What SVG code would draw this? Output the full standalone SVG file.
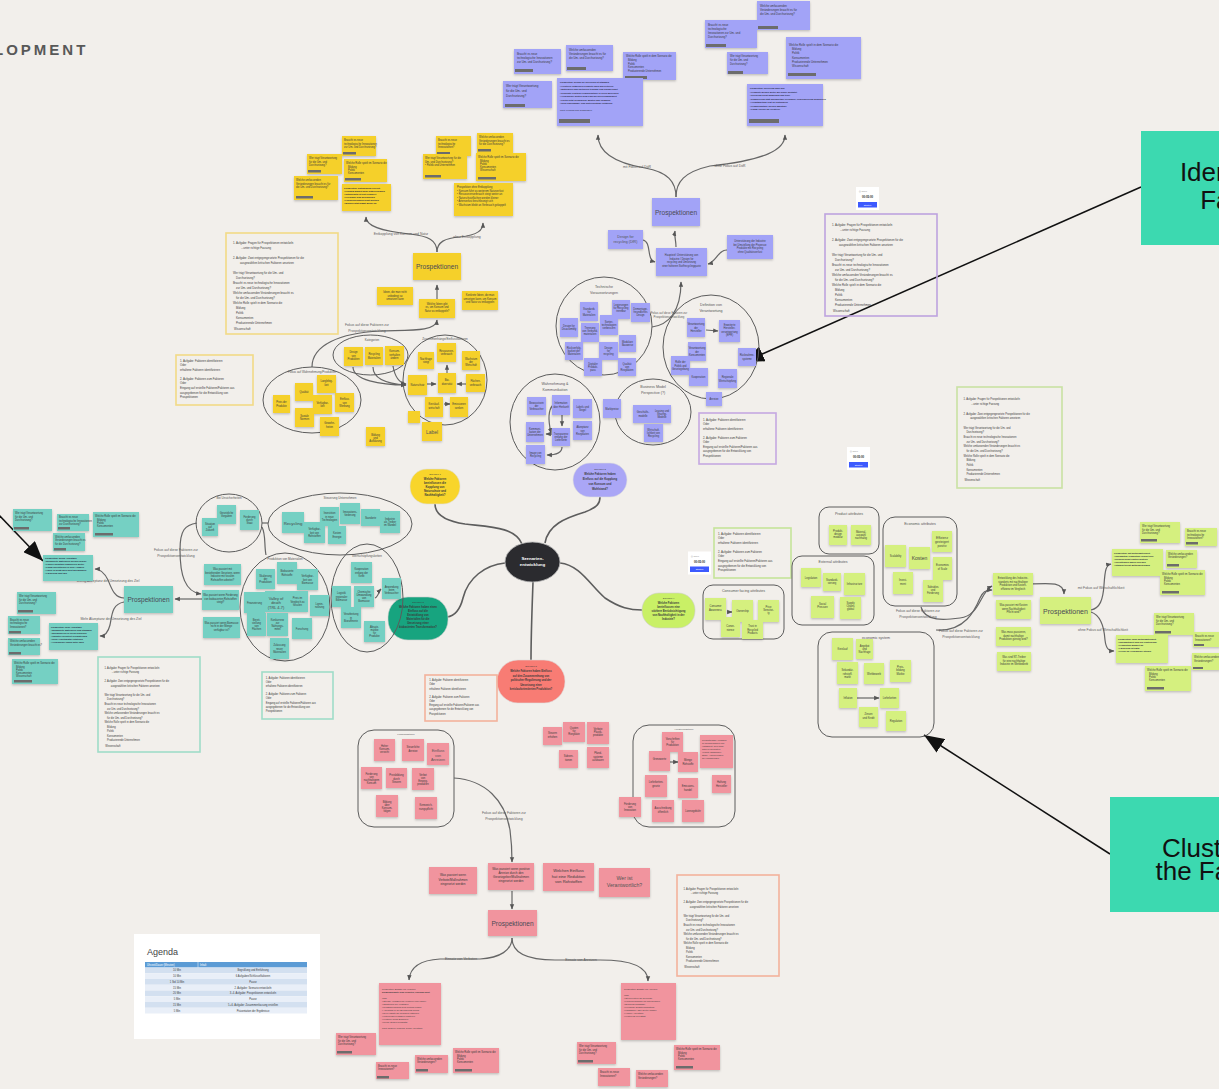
<svg xmlns="http://www.w3.org/2000/svg" width="1219" height="1089" viewBox="0 0 1219 1089">
<style>
text{font-family:"Liberation Sans",Arial,sans-serif;fill:#3a3a3a}
.s{font-size:2.6px}
.q{font-size:2.8px}
.d{font-size:2.2px;font-weight:bold;fill:#26263a}
.c{text-anchor:middle}
.tt{font-size:3.6px;fill:#555;text-anchor:middle}
.lb{font-size:3.4px;fill:#5a5a5a;text-anchor:middle}
.pr{font-size:6.6px;fill:#4a4a55;text-anchor:middle}
.ny{fill:#f5d02b}
.np{fill:#a2a3f7}
.nt{fill:#74d0c3}
.nl{fill:#d5f07f}
.nr{fill:#f1949e}
.tag{fill:#6c6c6c}
.cl{fill:none;stroke:#5c5c5c;stroke-width:1}
.cn{fill:none;stroke:#666;stroke-width:1.2;marker-end:url(#ah)}
.cn0{fill:none;stroke:#666;stroke-width:1.2}
.mm{fill:none;stroke:#5d5d5d;stroke-width:1.6}
.notes{filter:url(#sh)}
.tb{fill:none;stroke-width:1.6}
.big{fill:none;stroke:#111;stroke-width:1.5;marker-end:url(#bh)}
</style>
<defs>
<filter id="sh" x="-10%" y="-10%" width="120%" height="140%">
<feDropShadow dx="0" dy="1.2" stdDeviation="0.8" flood-color="#000" flood-opacity="0.22"/>
</filter>
<marker id="ah" viewBox="0 0 10 10" refX="9" refY="5" markerWidth="4.5" markerHeight="4.5" orient="auto">
<path d="M0,1 L10,5 L0,9 z" fill="#555"/>
</marker>
<marker id="bh" viewBox="0 0 20 16" refX="20" refY="8" markerWidth="20" markerHeight="16" markerUnits="userSpaceOnUse" orient="auto">
<path d="M0,0 L20,8 L0,16 z" fill="#111"/>
</marker>
<!-- task sheet: questions for the prospections -->
<symbol id="task" viewBox="0 0 112 101">
<text class="q" x="7" y="11">1. Aufgabe: Fragen für Prospektionen entwickeln</text>
<text class="q" x="15" y="16">...unter richtige Fassung</text>
<text class="q" x="7" y="26">2. Aufgabe: Zwei entgegengesetzte Prospektionen für die</text>
<text class="q" x="14" y="31">ausgewählten kritischen Faktoren ansetzen</text>
<text class="q" x="7" y="41">Wer trägt Verantwortung für die Um- und</text>
<text class="q" x="10" y="46">Durchsetzung?</text>
<text class="q" x="7" y="51">Braucht es neue technologische Innovationen</text>
<text class="q" x="10" y="56">zur Um- und Durchsetzung?</text>
<text class="q" x="7" y="61">Welche umfassenden Veränderungen braucht es</text>
<text class="q" x="10" y="66">für die Um- und Durchsetzung?</text>
<text class="q" x="7" y="71">Welche Rolle spielt in dem Szenario die</text>
<text class="q" x="10" y="76">Bildung</text>
<text class="q" x="10" y="81">Politik</text>
<text class="q" x="10" y="86">Konsumenten</text>
<text class="q" x="10" y="91">Produzierende Unternehmen</text>
<text class="q" x="8" y="97">Wissenschaft</text>
</symbol>
<!-- task sheet: identifying factors -->
<symbol id="task2" viewBox="0 0 77 50">
<text class="q" x="4" y="7">1. Aufgabe: Faktoren identifizieren</text>
<text class="q" x="4" y="11">Oder</text>
<text class="q" x="4" y="16">erhaltene Faktoren identifizieren</text>
<text class="q" x="4" y="25">2. Aufgabe: Faktoren zum Faktoren</text>
<text class="q" x="4" y="29">Oder</text>
<text class="q" x="4" y="34">Eingang auf erstellte Faktoren/Faktoren aus</text>
<text class="q" x="4" y="38.5">ausgegebenen für die Entwicklung von</text>
<text class="q" x="4" y="43">Prospektionen</text>
</symbol>
<!-- timer widget -->
<symbol id="timer" viewBox="0 0 23 23">
<rect width="23" height="23" fill="#fff"/>
<text x="3" y="5" style="font-size:2.2px;fill:#888">◷ Timer</text>
<text x="11.5" y="11" style="font-size:2.8px;font-weight:bold;fill:#222;text-anchor:middle">00:05:00</text>
<rect x="2" y="15" width="19" height="5.5" fill="#3d5afe"/>
<text x="11.5" y="18.8" style="font-size:2.3px;fill:#fff;text-anchor:middle">Starten</text>
</symbol>
</defs>

<rect width="1219" height="1089" fill="#f2efeb"/>
<text x="-6" y="55" style="font-size:15px;font-weight:bold;letter-spacing:3px;fill:#585858">LOPMENT</text>

<!-- ============ connectors ============ -->
<g id="connectors">
<!-- mind map branches from the centre -->
<path class="mm" d="M522,544 C515,527 490,527 465,524 C445,521 435,515 435,504"/>
<path class="mm" d="M545,543 C548,525 565,518 585,512 C598,507 600,503 600,497"/>
<path class="mm" d="M505,563 C485,565 468,578 463,598 C460,610 455,616 447,617"/>
<path class="mm" d="M533,582 C532,610 531,635 531,660"/>
<path class="mm" d="M560,563 C580,565 590,585 605,598 C620,608 630,610 642,610"/>

<!-- purple branch -->
<path class="cn" d="M676,197 C676,182 668,172 645,168 C615,163 598,152 598,135"/>
<path class="cn" d="M676,197 C676,182 684,172 710,166 C765,160 785,150 785,135"/>
<path class="cn" d="M676,247 C676,240 674,236 675,231"/>
<path class="cn" d="M643,240 C652,242 646,260 655,262"/>
<path class="cn" d="M727,250 C718,250 716,262 708,264"/>
<path class="cn" d="M652,327 C668,325 681,312 681,282"/>
<path class="cn" d="M706,330 L718,331"/>
<path class="cn" d="M553,405 C548,410 548,420 551,433"/>
<path class="cn" d="M562,415 L562,426"/>
<path class="cn" d="M552,434 L546,434"/>
<path class="cn" d="M562,447 C562,453 555,455 547,455"/>

<!-- yellow branch -->
<path class="cn" d="M437,252 C437,240 428,236 410,234 C380,231 366,226 366,217"/>
<path class="cn" d="M437,252 C437,242 445,238 460,237 C478,235 483,230 483,223"/>
<path class="cn" d="M437,299 L437,285"/>
<path class="cn" d="M312,367 C312,345 340,333 380,331 C410,330 436,332 437,320"/>
<path class="cn" d="M353,367 C353,380 380,385 406,385"/>
<path class="cn" d="M373,367 C373,380 390,384 406,385"/>
<path class="cn" d="M393,366 C395,378 400,383 406,384"/>
<path class="cn" d="M427,384 L436,384"/>
<path class="cn" d="M447,373 L447,365"/>
<path class="cn" d="M466,384 L457,384"/>
<path class="cn" d="M444,404 L450,404"/>

<!-- teal branch -->
<path class="cn" d="M124,598 C115,598 112,590 108,580 C104,572 100,569 95,569"/>
<path class="cn" d="M124,602 C112,604 112,615 110,625 C108,633 104,636 100,636"/>
<path class="cn" d="M202,599 L175,599"/>
<path class="cn" d="M197,523 C185,525 180,530 180,550 C180,575 185,592 201,594"/>
<path class="cn0" d="M262,523 L268,523"/>
<path class="cn0" d="M262,527 C266,535 264,545 266,555"/>
<path class="cn" d="M375,598 C378,597 379,591 381,589"/>

<!-- lime branch -->
<path class="cn" d="M1032,584 C1050,583 1064,582 1064,594"/>
<path class="cn" d="M1091,610 C1100,608 1103,600 1104,585 C1105,570 1106,565 1111,564"/>
<path class="cn" d="M1091,612 C1100,615 1104,625 1105,640 C1106,648 1108,651 1114,651"/>
<path class="cn" d="M921,607 C925,622 945,620 960,618 C980,616 980,592 992,586"/>
<path class="cn" d="M936,630 C965,632 975,610 980,598 C983,592 985,590 992,590"/>
<path class="cn" d="M727,612 L732,612"/>
<path class="cn" d="M857,698 L879,698"/>

<!-- pink branch -->
<path class="cn" d="M454,778 C485,780 505,800 510,830 C512,845 512,852 512,862"/>
<path class="cn" d="M512,891 L512,909"/>
<path class="cn" d="M512,938 C512,950 500,958 480,959 L440,959 C420,960 410,968 409,980"/>
<path class="cn" d="M512,938 C512,952 525,960 555,960 L600,960 C635,960 648,968 648,981"/>
<path class="cn" d="M670,762 L678,762"/>

<!-- callout arrows -->
<path class="big" d="M1141,187 L744,362"/>
<path class="big" d="M1110,854 L924,735"/>
<path class="big" d="M-4,512 L43,561"/>
</g>

<!-- connector labels -->
<g id="connector-labels">
<text class="lb" x="637" y="168">mit Fokus auf DöR</text>
<text class="lb" x="730" y="167">ohne Fokus auf DöR</text>
<text class="lb" x="669" y="314" style="font-size:2.8px">Fokus auf diese Faktoren zur</text>
<text class="lb" x="669" y="318" style="font-size:2.8px">Prospektionsentwicklung</text>
<text class="lb" x="401" y="235">Entkopplung von Konsum und Natur</text>
<text class="lb" x="467" y="238">ohne Entkopplung</text>
<text class="lb" x="367" y="326">Fokus auf diese Faktoren zur</text>
<text class="lb" x="367" y="332">Prospektionsentwicklung</text>
<text class="lb" x="108" y="582">Wenig Akzeptanz der Umsetzung des Ziel</text>
<text class="lb" x="111" y="620">Mehr Akzeptanz der Umsetzung des Ziel</text>
<text class="lb" x="176" y="551">Fokus auf diese Faktoren zur</text>
<text class="lb" x="176" y="557">Prospektionsentwicklung</text>
<text class="lb" x="1101" y="589">mit Fokus auf Wirtschaftlichkeit</text>
<text class="lb" x="1103" y="631">ohne Fokus auf Wirtschaftlichkeit</text>
<text class="lb" x="918" y="612">Fokus auf diese Faktoren zur</text>
<text class="lb" x="918" y="618">Prospektionsentwicklung</text>
<text class="lb" x="961" y="632">Fokus auf diese Faktoren zur</text>
<text class="lb" x="961" y="638">Prospektionsentwicklung</text>
<text class="lb" x="504" y="814">Fokus auf diese Faktoren zur</text>
<text class="lb" x="504" y="820">Prospektionsentwicklung</text>
<text class="lb" x="461" y="960">Einsatz von Verboten</text>
<text class="lb" x="581" y="961">Einsatz von Anreizen</text>
</g>

<!-- ============ centre ============ -->
<g id="center">
<ellipse cx="532.5" cy="562" rx="27.5" ry="20" fill="#2b2b2f" stroke="#bbb" stroke-width="0.8"/>
<text x="532.5" y="560" style="font-size:4.4px;font-weight:bold;fill:#fff;text-anchor:middle">Szenarien-</text>
<text x="532.5" y="566" style="font-size:4.4px;font-weight:bold;fill:#fff;text-anchor:middle">entwicklung</text>
</g>

<g id="q-yellow">
<rect x="410" y="469" width="50" height="35" rx="17" fill="#f8d52b" stroke="#ddd" stroke-width="0.6"/>
<text class="c" x="435" y="475" style="font-size:2.4px">Szenario 1</text>
<text class="c" x="435" y="479.5" style="font-size:2.8px;font-weight:bold">Welche Faktoren</text>
<text class="c" x="435" y="483.5" style="font-size:2.8px;font-weight:bold">beeinflussen die</text>
<text class="c" x="435" y="487.5" style="font-size:2.8px;font-weight:bold">Kopplung von</text>
<text class="c" x="435" y="491.5" style="font-size:2.8px;font-weight:bold">Naturschutz und</text>
<text class="c" x="435" y="495.5" style="font-size:2.8px;font-weight:bold">Nachhaltigkeit?</text>
</g>

<g id="q-purple">
<rect x="573" y="463" width="54" height="34" rx="17" fill="#aaa6f6" stroke="#ddd" stroke-width="0.6"/>
<text class="c" x="600" y="470" style="font-size:2.4px">Szenario 2</text>
<text class="c" x="600" y="475" style="font-size:2.8px;font-weight:bold">Welche Faktoren haben</text>
<text class="c" x="600" y="480" style="font-size:2.8px;font-weight:bold">Einfluss auf die Kopplung</text>
<text class="c" x="600" y="485" style="font-size:2.8px;font-weight:bold">von Konsum und</text>
<text class="c" x="600" y="490" style="font-size:2.8px;font-weight:bold">Wohlstand?</text>
</g>

<g id="q-teal">
<rect x="388" y="597" width="60" height="43" rx="20" fill="#17a47f" stroke="#ccc" stroke-width="0.6"/>
<text class="c" x="418" y="603" style="font-size:2.4px">Szenario 3</text>
<text class="c" x="418" y="607.5" style="font-size:2.7px;font-weight:bold">Welche Faktoren haben einen</text>
<text class="c" x="418" y="611.5" style="font-size:2.7px;font-weight:bold">Einfluss auf die</text>
<text class="c" x="418" y="615.5" style="font-size:2.7px;font-weight:bold">Entwicklung von</text>
<text class="c" x="418" y="619.5" style="font-size:2.7px;font-weight:bold">Materialien für die</text>
<text class="c" x="418" y="623.5" style="font-size:2.7px;font-weight:bold">Umsetzung einer</text>
<text class="c" x="418" y="627.5" style="font-size:2.7px;font-weight:bold">biobasierten Transformation?</text>
</g>

<g id="q-lime">
<rect x="642" y="593" width="53" height="35" rx="17" fill="#c9f066" stroke="#ccc" stroke-width="0.6"/>
<text class="c" x="668.5" y="599" style="font-size:2.4px">Szenario 4</text>
<text class="c" x="668.5" y="603.5" style="font-size:2.7px;font-weight:bold">Welche Faktoren</text>
<text class="c" x="668.5" y="607.5" style="font-size:2.7px;font-weight:bold">beeinflussen eine</text>
<text class="c" x="668.5" y="611.5" style="font-size:2.7px;font-weight:bold">stärkere Berücksichtigung</text>
<text class="c" x="668.5" y="615.5" style="font-size:2.7px;font-weight:bold">von Nachhaltigkeit in der</text>
<text class="c" x="668.5" y="619.5" style="font-size:2.7px;font-weight:bold">Industrie?</text>
</g>

<g id="q-red">
<rect x="497" y="660" width="68" height="43" rx="21" fill="#f87c74" stroke="#ddd" stroke-width="0.6"/>
<text class="c" x="531" y="667" style="font-size:2.4px">Szenario 5</text>
<text class="c" x="531" y="672" style="font-size:2.7px;font-weight:bold">Welche Faktoren haben Einfluss</text>
<text class="c" x="531" y="676.5" style="font-size:2.7px;font-weight:bold">auf den Zusammenhang von</text>
<text class="c" x="531" y="681" style="font-size:2.7px;font-weight:bold">politischer Regulierung und der</text>
<text class="c" x="531" y="685.5" style="font-size:2.7px;font-weight:bold">Umsetzung einer</text>
<text class="c" x="531" y="690" style="font-size:2.7px;font-weight:bold">kreislauforientierten Produktion?</text>
</g>

<!-- ============ purple area ============ -->
<g id="purple-area">
<g class="notes">
<rect class="np" x="514" y="49" width="47" height="25"/><rect class="tag" x="515" y="69" width="18" height="3"/>
<rect class="np" x="566" y="45" width="47" height="26"/><rect class="tag" x="567" y="67" width="19" height="3"/>
<rect class="np" x="623" y="52" width="53" height="28"/><rect class="tag" x="625" y="76" width="22" height="3"/>
<rect class="np" x="503" y="81" width="49" height="27"/><rect class="tag" x="505" y="104" width="20" height="3"/>
<rect class="np" x="557" y="78" width="86" height="48"/><rect class="tag" x="559" y="119" width="31" height="4"/>
<rect class="np" x="757" y="1" width="53" height="29"/><rect class="tag" x="758" y="26" width="20" height="3"/>
<rect class="np" x="705" y="20" width="52" height="28"/><rect class="tag" x="706" y="44" width="20" height="3"/>
<rect class="np" x="727" y="52" width="41" height="22"/><rect class="tag" x="728" y="71" width="15" height="3"/>
<rect class="np" x="786" y="37" width="75" height="42"/><rect class="tag" x="788" y="73" width="28" height="3"/>
<rect class="np" x="747" y="84" width="76" height="42"/><rect class="tag" x="749" y="119" width="30" height="4"/>
</g>
<text class="q" x="517" y="55">Braucht es neue</text>
<text class="q" x="517" y="59">technologische Innovationen</text>
<text class="q" x="517" y="63">zur Um- und Durchsetzung?</text>
<text class="q" x="569" y="51">Welche umfassenden</text>
<text class="q" x="569" y="55">Veränderungen braucht es für</text>
<text class="q" x="569" y="59">die Um- und Durchsetzung?</text>
<text class="s" x="626" y="57">Welche Rolle spielt in dem Szenario die</text>
<text class="s" x="628" y="61">Bildung</text>
<text class="s" x="628" y="64.5">Politik</text>
<text class="s" x="628" y="68">Konsumenten</text>
<text class="s" x="628" y="71.5">Produzierende Unternehmen</text>
<text class="q" x="506" y="87" style="font-size:3px">Wer trägt Verantwortung</text>
<text class="q" x="506" y="92" style="font-size:3px">für die Um- und</text>
<text class="q" x="506" y="97" style="font-size:3px">Durchsetzung?</text>
<text class="d" x="560" y="83">Prospektion: Design for Recycling ist Standard</text>
<text class="d" x="560" y="86.5">• Hersteller entwickeln Produkte nach DfR-Kriterien</text>
<text class="d" x="560" y="90">• Materialien sind sortenrein trennbar und kennzeichnet</text>
<text class="d" x="560" y="93.5">• Rezyklate ersetzen Primärrohstoffe in vielen Bereichen</text>
<text class="d" x="560" y="97">• Verbraucher achten beim Kauf auf Recyclingfähigkeit</text>
<text class="d" x="560" y="100.5">• Politik setzt verbindliche Quoten und Vorgaben</text>
<text class="d" x="560" y="104">• Neue Rücknahme- und Sortiersysteme entstehen</text>
<text class="d" x="560" y="111" style="font-weight:normal">Fazit: Kreislauf wird geschlossen</text>

<text class="q" x="760" y="7">Welche umfassenden</text>
<text class="q" x="760" y="11">Veränderungen braucht es für</text>
<text class="q" x="760" y="15">die Um- und Durchsetzung?</text>
<text class="q" x="708" y="26">Braucht es neue</text>
<text class="q" x="708" y="30">technologische</text>
<text class="q" x="708" y="34">Innovationen zur Um- und</text>
<text class="q" x="708" y="38">Durchsetzung?</text>
<text class="s" x="730" y="57">Wer trägt Verantwortung</text>
<text class="s" x="730" y="61">für die Um- und</text>
<text class="s" x="730" y="65">Durchsetzung?</text>
<text class="q" x="789" y="46">Welche Rolle spielt in dem Szenario die</text>
<text class="q" x="792" y="50">Bildung</text>
<text class="q" x="792" y="54">Politik</text>
<text class="q" x="792" y="59">Konsumenten</text>
<text class="q" x="792" y="63">Produzierende Unternehmen</text>
<text class="q" x="792" y="67">Wissenschaft</text>
<text class="d" x="750" y="89">Prospektion: Recycling ohne DfR</text>
<text class="d" x="750" y="92.5">• Produkte werden weiter wie bisher gestaltet</text>
<text class="d" x="750" y="96">• Recycling bleibt aufwendig und teuer</text>
<text class="d" x="750" y="99.5">• Downcycling statt hochwertiger Kreisläufe, verbrennen und deponieren</text>
<text class="d" x="750" y="103">• Verantwortung liegt bei Entsorgern</text>
<text class="d" x="750" y="106.5">• Primärrohstoffe bleiben günstiger</text>
<text class="d" x="750" y="110">• Kaum Anreize für Hersteller</text>

<g class="notes">
<rect class="np" x="652" y="198" width="48" height="28"/>
<rect class="np" x="608" y="230" width="35" height="19"/>
<rect class="np" x="656" y="248" width="51" height="28"/>
<rect class="np" x="727" y="235" width="46" height="24"/>
</g>
<text class="pr" x="676" y="214.5">Prospektionen</text>
<text class="c" x="625.5" y="238" style="font-size:3.6px;fill:#555">Design for</text>
<text class="c" x="625.5" y="243" style="font-size:3.6px;fill:#555">recycling (DfR)</text>
<text class="c s" x="681.5" y="256">Hauptziel: Unterstützung von</text>
<text class="c s" x="681.5" y="259.5">Industrie / Design for</text>
<text class="c s" x="681.5" y="263">recycling und Umsetzung</text>
<text class="c s" x="681.5" y="266.5">einer höheren Stoffrecyclingquote</text>
<text class="c s" x="750" y="242">Unterstützung der Industrie</text>
<text class="c s" x="750" y="245.5">bei Umstellung der Prozesse</text>
<text class="c s" x="750" y="249">Produkte mit Recycling</text>
<text class="c s" x="750" y="252.5">ohne Qualitätsverlust</text>

<!-- clusters -->
<ellipse class="cl" cx="604" cy="326" rx="48" ry="49"/>
<text class="tt" x="604" y="288">Technische</text>
<text class="tt" x="604" y="294">Voraussetzungen</text>
<ellipse class="cl" cx="711" cy="347" rx="48" ry="52"/>
<text class="tt" x="711" y="306">Definition von</text>
<text class="tt" x="711" y="312">Verantwortung</text>
<ellipse class="cl" cx="555" cy="422" rx="45" ry="48"/>
<text class="tt" x="555" y="385">Wahrnehmung &amp;</text>
<text class="tt" x="555" y="391">Kommunikation</text>
<ellipse class="cl" cx="653" cy="412" rx="38" ry="33"/>
<text class="tt" x="653" y="388">Business Model</text>
<text class="tt" x="653" y="394">Perspective (?)</text>

<g class="notes">
<rect class="np" x="580" y="302" width="18" height="19"/>
<rect class="np" x="612" y="300" width="18" height="19"/>
<rect class="np" x="631" y="303" width="19" height="19"/>
<rect class="np" x="560" y="318" width="18" height="19"/>
<rect class="np" x="581" y="323" width="18" height="19"/>
<rect class="np" x="600" y="315" width="18" height="20"/>
<rect class="np" x="565" y="342" width="18" height="18"/>
<rect class="np" x="599" y="342" width="19" height="18"/>
<rect class="np" x="619" y="335" width="17" height="17"/>
<rect class="np" x="584" y="358" width="18" height="18"/>
<rect class="np" x="618" y="358" width="18" height="18"/>
<rect class="np" x="687" y="318" width="18" height="19"/>
<rect class="np" x="719" y="320" width="21" height="22"/>
<rect class="np" x="688" y="342" width="18" height="19"/>
<rect class="np" x="671" y="356" width="19" height="19"/>
<rect class="np" x="689" y="368" width="19" height="18"/>
<rect class="np" x="718" y="369" width="19" height="19"/>
<rect class="np" x="738" y="348" width="18" height="18"/>
<rect class="np" x="706" y="392" width="16" height="14"/>
<rect class="np" x="527" y="397" width="19" height="18"/>
<rect class="np" x="552" y="395" width="18" height="20"/>
<rect class="np" x="573" y="399" width="19" height="19"/>
<rect class="np" x="526" y="422" width="18" height="20"/>
<rect class="np" x="552" y="428" width="18" height="18"/>
<rect class="np" x="573" y="421" width="19" height="19"/>
<rect class="np" x="526" y="445" width="19" height="19"/>
<rect class="np" x="633" y="405" width="20" height="18"/>
<rect class="np" x="653" y="405" width="18" height="18"/>
<rect class="np" x="644" y="424" width="19" height="18"/>
<rect class="np" x="603" y="399" width="18" height="19"/>
</g>
<g class="s c">
<text x="589" y="309.5">Standards</text><text x="589" y="312.7">für</text><text x="589" y="315.9">Materialien</text>
<text x="621" y="306">Legierungen</text><text x="621" y="309.2">für Recycling</text><text x="621" y="312.4">trennbar</text>
<text x="640.5" y="310">Demontage-</text><text x="640.5" y="313.2">freundliches</text><text x="640.5" y="316.4">Design</text>
<text x="569" y="326.9">Design for</text><text x="569" y="330.1">Disassembly</text>
<text x="590" y="328.5">Trennung</text><text x="590" y="331.7">von Verbund-</text><text x="590" y="334.9">materialien</text>
<text x="609" y="322.8">Sortier-</text><text x="609" y="326">technologien</text><text x="609" y="329.2">verbessern</text>
<text x="574" y="348.8">Rückverfolg-</text><text x="574" y="352">barkeit der</text><text x="574" y="355.2">Materialien</text>
<text x="608.5" y="348.8">Design</text><text x="608.5" y="352">for</text><text x="608.5" y="355.2">recycling</text>
<text x="627.5" y="342.9">Modulare</text><text x="627.5" y="346.1">Bauweise</text>
<text x="593" y="364.8">Digitaler</text><text x="593" y="368">Produkt-</text><text x="593" y="371.2">pass</text>
<text x="627" y="364.8">Qualität</text><text x="627" y="368">von</text><text x="627" y="371.2">Rezyklaten</text>
<text x="696" y="325.3">Verantwortung</text><text x="696" y="328.5">der</text><text x="696" y="331.7">Hersteller</text>
<text x="729.5" y="326.2">Erweiterte</text><text x="729.5" y="329.4">Hersteller-</text><text x="729.5" y="332.6">verantwortung</text><text x="729.5" y="335.8">(EPR)</text>
<text x="697" y="349.3">Verantwortung</text><text x="697" y="352.5">der</text><text x="697" y="355.7">Konsumenten</text>
<text x="680.5" y="363.3">Rolle der</text><text x="680.5" y="366.5">Politik und</text><text x="680.5" y="369.7">Gesetzgebung</text>
<text x="698.5" y="378">Kooperation</text>
<text x="727.5" y="378.4">Regionale</text><text x="727.5" y="381.6">Wertschöpfung</text>
<text x="747" y="356.4">Rücknahme-</text><text x="747" y="359.6">systeme</text>
<text x="714" y="400">Anreize</text>
<text x="536.5" y="403.8">Bewusstsein</text><text x="536.5" y="407">der</text><text x="536.5" y="410.2">Verbraucher</text>
<text x="561" y="404.4">Information</text><text x="561" y="407.6">über Herkunft</text>
<text x="582.5" y="407.9">Labels und</text><text x="582.5" y="411.1">Siegel</text>
<text x="535" y="429.8">Kommuni-</text><text x="535" y="433">kation der</text><text x="535" y="436.2">Unternehmen</text>
<text x="561" y="434.8">Transparenz</text><text x="561" y="438">entlang der</text><text x="561" y="441.2">Lieferkette</text>
<text x="582.5" y="428.3">Akzeptanz</text><text x="582.5" y="431.5">von</text><text x="582.5" y="434.7">Rezyklaten</text>
<text x="535.5" y="453.9">Image von</text><text x="535.5" y="457.1">Recycling</text>
<text x="643" y="413.4">Geschäfts-</text><text x="643" y="416.6">modelle</text>
<text x="662" y="411.8">Leasing und</text><text x="662" y="415">Sharing-</text><text x="662" y="418.2">Modelle</text>
<text x="653.5" y="430.8">Wirtschaft-</text><text x="653.5" y="434">lichkeit von</text><text x="653.5" y="437.2">Recycling</text>
<text x="612" y="409.5">Marktpreise</text>
</g>
<rect class="tb" x="825" y="214" width="112" height="102" stroke="#bda3df"/>
<use href="#task" x="825" y="214" width="112" height="102"/>
<rect class="tb" x="699" y="413" width="77" height="51" stroke="#c5a8e2"/>
<use href="#task2" x="699" y="413" width="77" height="51"/>
<use href="#timer" x="856" y="187" width="23" height="23"/>
<use href="#timer" x="847" y="447" width="23" height="23"/>
</g>

<!-- ============ yellow area ============ -->
<g id="yellow-area">
<g class="notes">
<rect class="ny" x="342" y="136" width="34" height="20"/><rect class="tag" x="343" y="152" width="13" height="2.5"/>
<rect class="ny" x="307" y="154" width="35" height="20"/><rect class="tag" x="308" y="170" width="13" height="2.5"/>
<rect class="ny" x="344" y="159" width="43" height="23"/><rect class="tag" x="345" y="178" width="16" height="2.5"/>
<rect class="ny" x="294" y="176" width="44" height="24"/><rect class="tag" x="296" y="196" width="17" height="2.5"/>
<rect class="ny" x="342" y="184" width="49" height="27"/>
<rect class="ny" x="436" y="136" width="35" height="20"/><rect class="tag" x="437" y="152" width="13" height="2.5"/>
<rect class="ny" x="477" y="133" width="36" height="20"/><rect class="tag" x="478" y="149" width="13" height="2.5"/>
<rect class="ny" x="423" y="154" width="44" height="25"/><rect class="tag" x="425" y="175" width="16" height="2.5"/>
<rect class="ny" x="476" y="153" width="50" height="28"/><rect class="tag" x="478" y="177" width="18" height="2.5"/>
<rect class="ny" x="454" y="183" width="59" height="33"/>
</g>
<text class="s" x="344" y="141">Braucht es neue</text>
<text class="s" x="344" y="144.5">technologische Innovationen</text>
<text class="s" x="344" y="148">zur Um- und Durchsetzung?</text>
<text class="s" x="309" y="159">Wer trägt Verantwortung</text>
<text class="s" x="309" y="162.5">für die Um- und</text>
<text class="s" x="309" y="166">Durchsetzung?</text>
<text class="s" x="346" y="164">Welche Rolle spielt im Szenario die</text>
<text class="s" x="348" y="167.5">Bildung</text>
<text class="s" x="348" y="170.5">Politik</text>
<text class="s" x="348" y="173.5">Konsumenten</text>
<text class="s" x="296" y="181">Welche umfassenden</text>
<text class="s" x="296" y="184.5">Veränderungen braucht es für</text>
<text class="s" x="296" y="188">die Um- und Durchsetzung?</text>
<text class="d" x="344" y="189">Prospektion: Entkopplung erreicht</text>
<text class="d" x="344" y="192">• Konsum wächst ohne Naturverbrauch</text>
<text class="d" x="344" y="195">• Naturschutz ist fest verankert</text>
<text class="d" x="344" y="198">• Kreisläufe sind geschlossen</text>
<text class="d" x="344" y="201">• Flächenverbrauch sinkt deutlich</text>
<text class="d" x="344" y="204">• Biodiversität nimmt wieder zu</text>
<text class="s" x="438" y="141">Braucht es neue</text>
<text class="s" x="438" y="144.5">technologische</text>
<text class="s" x="438" y="148">Innovationen?</text>
<text class="s" x="479" y="138">Welche umfassenden</text>
<text class="s" x="479" y="141.5">Veränderungen braucht es</text>
<text class="s" x="479" y="145">für die Durchsetzung?</text>
<text class="s" x="425" y="159">Wer trägt Verantwortung für die</text>
<text class="s" x="425" y="162.5">Um- und Durchsetzung?</text>
<text class="s" x="425" y="166">• Politik und Unternehmen</text>
<text class="s" x="478" y="158">Welche Rolle spielt im Szenario die</text>
<text class="s" x="480" y="161.5">Bildung</text>
<text class="s" x="480" y="164.5">Politik</text>
<text class="s" x="480" y="167.5">Konsumenten</text>
<text class="s" x="480" y="170.5">Wissenschaft</text>
<text class="s" x="457" y="188">Prospektion ohne Entkopplung</text>
<text class="s" x="457" y="191.5">• Konsum führt zu weiterem Naturverlust</text>
<text class="s" x="457" y="195">• Ressourcenverbrauch steigt weiter an</text>
<text class="s" x="457" y="198.5">• Naturschutzflächen werden kleiner</text>
<text class="s" x="457" y="202">• Artenverlust beschleunigt sich</text>
<text class="s" x="457" y="205.5">• Wachstum bleibt an Verbrauch gekoppelt</text>

<g class="notes">
<rect class="ny" x="413" y="253" width="48" height="27"/>
<rect class="ny" x="419" y="299" width="36" height="19"/>
<rect class="ny" x="377" y="287" width="36" height="18"/>
<rect class="ny" x="462" y="291" width="36" height="19"/>
</g>
<text class="pr" x="437" y="269">Prospektionen</text>
<text class="c s" x="437" y="304.5">Welche Ideen gibt</text>
<text class="c s" x="437" y="308">es, um Konsum und</text>
<text class="c s" x="437" y="311.5">Natur zu entkoppeln?</text>
<text class="c s" x="395" y="293">Ideen, die man nicht</text>
<text class="c s" x="395" y="296.5">unbedingt so</text>
<text class="c s" x="395" y="300">umsetzen kann</text>
<text class="c s" x="480" y="296">Konkrete Ideen, die man</text>
<text class="c s" x="480" y="299.5">umsetzen kann, um Konsum</text>
<text class="c s" x="480" y="303">und Natur zu entkoppeln</text>

<rect class="tb" x="226" y="233" width="112" height="101" stroke="#f2da86"/>
<use href="#task" x="226" y="233" width="112" height="101"/>
<rect class="tb" x="176" y="355" width="77" height="50" stroke="#f2da86"/>
<use href="#task2" x="176" y="355" width="77" height="50"/>

<ellipse class="cl" cx="370.5" cy="355" rx="37.5" ry="20"/>
<text class="tt" x="372" y="341" style="font-size:3px">Kategorien</text>
<ellipse class="cl" cx="312" cy="400" rx="49" ry="33"/>
<text class="tt" x="312" y="373" style="font-size:3px">Fokus auf Wahrnehmung/Produkten</text>
<ellipse class="cl" cx="445" cy="380" rx="42" ry="45"/>
<text class="tt" x="445" y="340" style="font-size:3px">Zusammenhänge/Einflussfaktoren</text>

<g class="notes">
<rect class="ny" x="344" y="347" width="19" height="19"/>
<rect class="ny" x="365" y="347" width="18" height="18"/>
<rect class="ny" x="385" y="346" width="19" height="19"/>
<rect class="ny" x="273" y="395" width="17" height="18"/>
<rect class="ny" x="295" y="383" width="18" height="18"/>
<rect class="ny" x="317" y="375" width="19" height="18"/>
<rect class="ny" x="313" y="395" width="19" height="19"/>
<rect class="ny" x="335" y="393" width="19" height="19"/>
<rect class="ny" x="295" y="408" width="19" height="19"/>
<rect class="ny" x="320" y="417" width="19" height="19"/>
<rect class="ny" x="418" y="352" width="16" height="17"/>
<rect class="ny" x="437" y="343" width="19" height="19"/>
<rect class="ny" x="462" y="351" width="18" height="19"/>
<rect class="ny" x="408" y="375" width="19" height="20"/>
<rect class="ny" x="438" y="373" width="18" height="20"/>
<rect class="ny" x="466" y="374" width="19" height="18"/>
<rect class="ny" x="425" y="397" width="18" height="20"/>
<rect class="ny" x="450" y="397" width="18" height="20"/>
<rect class="ny" x="408" y="411" width="12" height="12"/>
<rect class="ny" x="422" y="422" width="20" height="19"/>
<rect class="ny" x="366" y="427" width="19" height="19"/>
</g>
<g class="s c">
<text x="353.5" y="353.3">Design</text><text x="353.5" y="356.5">von</text><text x="353.5" y="359.7">Produkten</text>
<text x="374" y="355.4">Recycling</text><text x="374" y="358.6">Materialien</text>
<text x="394.5" y="352.3">Konsum-</text><text x="394.5" y="355.5">verhalten</text><text x="394.5" y="358.7">ändern</text>
<text x="281.5" y="403.4">Preis der</text><text x="281.5" y="406.6">Produkte</text>
<text x="304" y="392.6">Qualität</text>
<text x="326.5" y="382.4">Langlebig-</text><text x="326.5" y="385.6">keit</text>
<text x="322.5" y="403.9">Verfügbar-</text><text x="322.5" y="407.1">keit</text>
<text x="344.5" y="400.3">Einfluss</text><text x="344.5" y="403.5">von</text><text x="344.5" y="406.7">Werbung</text>
<text x="304.5" y="416.9">Soziale</text><text x="304.5" y="420.1">Normen</text>
<text x="329.5" y="424.3">Gewohn-</text><text x="329.5" y="427.5">heiten</text>
<text x="426" y="359.9">Nachfrage</text><text x="426" y="363.1">steigt</text>
<text x="446.5" y="351.9">Ressourcen-</text><text x="446.5" y="355.1">verbrauch</text>
<text x="471" y="359.9">Wachstum</text><text x="471" y="363.1">der</text><text x="471" y="366.3">Wirtschaft</text>
<text x="417.5" y="386">Naturschutz</text>
<text x="447" y="381.3">Bio-</text><text x="447" y="384.5">diversität</text>
<text x="475.5" y="382.4">Flächen-</text><text x="475.5" y="385.6">verbrauch</text>
<text x="434" y="405.3">Kreislauf-</text><text x="434" y="408.5">wirtschaft</text>
<text x="459" y="405.3">Emissionen</text><text x="459" y="408.5">senken</text>
<text x="375.5" y="435.9">Bildung</text><text x="375.5" y="439.1">und</text><text x="375.5" y="442.3">Aufklärung</text>
</g>
<text class="c" x="432" y="433.5" style="font-size:5px;fill:#555">Label</text>
</g>

<!-- ============ teal area ============ -->
<g id="teal-area">
<g class="notes">
<rect class="nt" x="13" y="509" width="39" height="22"/><rect class="tag" x="14" y="527" width="15" height="2.5"/>
<rect class="nt" x="57" y="514" width="32" height="17"/><rect class="tag" x="58" y="527" width="12" height="2.5"/>
<rect class="nt" x="93" y="512" width="46" height="25"/><rect class="tag" x="95" y="533" width="18" height="2.5"/>
<rect class="nt" x="53" y="533" width="32" height="18"/><rect class="tag" x="54" y="548" width="12" height="2.5"/>
<rect class="nt" x="43" y="555" width="50" height="26"/>
<rect class="nt" x="17" y="592" width="39" height="22"/><rect class="tag" x="18" y="610" width="15" height="2.5"/>
<rect class="nt" x="8" y="616" width="32" height="18"/><rect class="tag" x="9" y="631" width="12" height="2.5"/>
<rect class="nt" x="49" y="623" width="49" height="27"/>
<rect class="nt" x="8" y="638" width="32" height="17"/><rect class="tag" x="9" y="652" width="12" height="2.5"/>
<rect class="nt" x="12" y="659" width="46" height="25"/><rect class="tag" x="14" y="680" width="18" height="2.5"/>
</g>
<text class="s" x="15" y="514">Wer trägt Verantwortung</text>
<text class="s" x="15" y="517.5">für die Um- und</text>
<text class="s" x="15" y="521">Durchsetzung?</text>
<text class="s" x="59" y="518">Braucht es neue</text>
<text class="s" x="59" y="521.5">technologische Innovationen</text>
<text class="s" x="59" y="525">zur Durchsetzung?</text>
<text class="s" x="95" y="517">Welche Rolle spielt im Szenario die</text>
<text class="s" x="97" y="520.5">Bildung</text>
<text class="s" x="97" y="523.5">Politik</text>
<text class="s" x="97" y="526.5">Konsumenten</text>
<text class="s" x="55" y="537.5">Welche umfassenden</text>
<text class="s" x="55" y="541">Veränderungen braucht es</text>
<text class="s" x="55" y="544.5">für die Durchsetzung?</text>
<text class="d" x="45" y="559">Prospektion: wenig Akzeptanz</text>
<text class="d" x="45" y="562">• Biobasierte Materialien bleiben Nische</text>
<text class="d" x="45" y="565">• Fossile Rohstoffe dominieren weiter</text>
<text class="d" x="45" y="568">• Kaum Investitionen in neue Anlagen</text>
<text class="d" x="45" y="571">• Valley of death wird nicht überwunden</text>
<text class="d" x="45" y="574">• Förderung läuft aus</text>
<text class="s" x="19" y="597">Wer trägt Verantwortung</text>
<text class="s" x="19" y="600.5">für die Um- und</text>
<text class="s" x="19" y="604">Durchsetzung?</text>
<text class="s" x="10" y="620.5">Braucht es neue</text>
<text class="s" x="10" y="624">technologische</text>
<text class="s" x="10" y="627.5">Innovationen?</text>
<text class="d" x="51" y="628">Prospektion: hohe Akzeptanz</text>
<text class="d" x="51" y="631">• Biobasierte Materialien sind Standard</text>
<text class="d" x="51" y="634">• Bioraffinerien in vielen Regionen</text>
<text class="d" x="51" y="637">• Industrie investiert in Umstellung</text>
<text class="d" x="51" y="640">• Neue Arbeitsplätze entstehen</text>
<text class="d" x="51" y="643">• Verbraucher fragen aktiv nach</text>
<text class="s" x="10" y="642">Welche umfassenden</text>
<text class="s" x="10" y="645.5">Veränderungen braucht es?</text>
<text class="s" x="14" y="664">Welche Rolle spielt im Szenario die</text>
<text class="s" x="16" y="667.5">Bildung</text>
<text class="s" x="16" y="670.5">Politik</text>
<text class="s" x="16" y="673.5">Konsumenten</text>
<text class="s" x="16" y="676.5">Wissenschaft</text>

<g class="notes">
<rect class="nt" x="124" y="586" width="49" height="27"/>
<rect class="nt" x="204" y="564" width="37" height="21"/>
<rect class="nt" x="202" y="590" width="37" height="20"/>
<rect class="nt" x="203" y="617" width="37" height="21"/>
</g>
<text class="pr" x="148.5" y="602">Prospektionen</text>
<g class="s c">
<text x="222.5" y="570">Was passiert mit</text><text x="222.5" y="573.5">bestehenden Gesetzen, wenn</text><text x="222.5" y="577">Industrie mit fossilen</text><text x="222.5" y="580.5">Rohstoffen arbeitet?</text>
<text x="220.5" y="596">Was passiert wenn Förderung</text><text x="220.5" y="599.5">von biobasierten Rohstoffen</text><text x="220.5" y="603">steigt?</text>
<text x="221.5" y="623.5">Was passiert wenn Biomasse</text><text x="221.5" y="627">nicht in der Menge</text><text x="221.5" y="630.5">verfügbar ist?</text>
</g>

<ellipse class="cl" cx="229" cy="523" rx="33" ry="29"/>
<text class="tt" x="229" y="499" style="font-size:3px">Bei Unsicherheiten</text>
<ellipse class="cl" cx="340" cy="524" rx="72" ry="31"/>
<text class="tt" x="340" y="499" style="font-size:3px">Steuerung Unternehmen</text>
<ellipse class="cl" cx="285" cy="607" rx="45" ry="54"/>
<text class="tt" x="285" y="560" style="font-size:3px">Produktion von Materialien</text>
<ellipse class="cl" cx="367" cy="598" rx="36" ry="54"/>
<text class="tt" x="367" y="557" style="font-size:3px">Wertschöpfungsketten</text>

<g class="notes">
<rect class="nt" x="202" y="518" width="16" height="18"/>
<rect class="nt" x="217" y="505" width="19" height="19"/>
<rect class="nt" x="240" y="510" width="19" height="20"/>
<rect class="nt" x="282" y="512" width="22" height="21"/>
<rect class="nt" x="304" y="522" width="21" height="21"/>
<rect class="nt" x="320" y="507" width="19" height="19"/>
<rect class="nt" x="340" y="503" width="20" height="21"/>
<rect class="nt" x="328" y="526" width="18" height="18"/>
<rect class="nt" x="361" y="509" width="19" height="17"/>
<rect class="nt" x="380" y="511" width="20" height="22"/>
<rect class="nt" x="256" y="569" width="19" height="20"/>
<rect class="nt" x="277" y="562" width="20" height="22"/>
<rect class="nt" x="297" y="569" width="21" height="21"/>
<rect class="nt" x="244" y="592" width="21" height="21"/>
<rect class="nt" x="265" y="591" width="22" height="21"/>
<rect class="nt" x="287" y="591" width="21" height="21"/>
<rect class="nt" x="310" y="595" width="19" height="21"/>
<rect class="nt" x="247" y="613" width="19" height="23"/>
<rect class="nt" x="267" y="613" width="21" height="23"/>
<rect class="nt" x="292" y="618" width="20" height="21"/>
<rect class="nt" x="270" y="638" width="19" height="21"/>
<rect class="nt" x="351" y="562" width="21" height="21"/>
<rect class="nt" x="332" y="586" width="19" height="21"/>
<rect class="nt" x="354" y="586" width="20" height="21"/>
<rect class="nt" x="341" y="607" width="20" height="21"/>
<rect class="nt" x="364" y="621" width="21" height="21"/>
<rect class="nt" x="382" y="578" width="19" height="21"/>
</g>
<g class="s c">
<text x="210" y="524.8">Situation</text><text x="210" y="528">auf</text><text x="210" y="531.2">Zukunft</text>
<text x="226.5" y="513.9">Gesetzliche</text><text x="226.5" y="517.1">Vorgaben</text>
<text x="249.5" y="517.8">Förderung</text><text x="249.5" y="521">durch</text><text x="249.5" y="524.2">Staat</text>
<text x="314.5" y="530.3">Verfügbar-</text><text x="314.5" y="533.5">keit von</text><text x="314.5" y="536.7">Rohstoffen</text>
<text x="329.5" y="514.3">Investition</text><text x="329.5" y="517.5">in neue</text><text x="329.5" y="520.7">Technologien</text>
<text x="350" y="512.9">Innovations-</text><text x="350" y="516.1">förderung</text>
<text x="337" y="534.4">Kosten</text><text x="337" y="537.6">Energie</text>
<text x="370.5" y="518.5">Standorte</text>
<text x="390" y="519.8">Industrie</text><text x="390" y="523">als Treiber</text><text x="390" y="526.2">im Wandel</text>
<text x="265.5" y="576.8">Skalierung</text><text x="265.5" y="580">der</text><text x="265.5" y="583.2">Produktion</text>
<text x="287" y="572.4">Biobasierte</text><text x="287" y="575.6">Rohstoffe</text>
<text x="307.5" y="577.3">Verfügbar-</text><text x="307.5" y="580.5">keit von</text><text x="307.5" y="583.7">Biomasse</text>
<text x="254.5" y="603.5">Finanzierung</text>
<text x="297.5" y="599.3">Preis im</text><text x="297.5" y="602.5">Vergleich zu</text><text x="297.5" y="605.7">fossilen</text>
<text x="319.5" y="604.9">Lignin-</text><text x="319.5" y="608.1">nutzung</text>
<text x="256.5" y="620.7">Bereit-</text><text x="256.5" y="623.9">stellung</text><text x="256.5" y="627.1">von</text><text x="256.5" y="630.3">Flächen</text>
<text x="277.5" y="620.7">Konkurrenz</text><text x="277.5" y="623.9">zur</text><text x="277.5" y="627.1">Nahrungs-</text><text x="277.5" y="630.3">mittel</text>
<text x="302" y="629.5">Forschung</text>
<text x="279.5" y="646.3">Zulassung</text><text x="279.5" y="649.5">neuer</text><text x="279.5" y="652.7">Materialien</text>
<text x="361.5" y="570.3">Kooperation</text><text x="361.5" y="573.5">entlang der</text><text x="361.5" y="576.7">Kette</text>
<text x="341.5" y="594.3">Logistik</text><text x="341.5" y="597.5">regionaler</text><text x="341.5" y="600.7">Biomasse</text>
<text x="364" y="592.7">Chemische</text><text x="364" y="595.9">Umwandlung</text><text x="364" y="599.1">von</text><text x="364" y="602.3">Biomasse</text>
<text x="351" y="615.3">Verarbeitung</text><text x="351" y="618.5">in</text><text x="351" y="621.7">Bioraffinerie</text>
<text x="374.5" y="627.7">Absatz-</text><text x="374.5" y="630.9">märkte</text><text x="374.5" y="634.1">für</text><text x="374.5" y="637.3">Produkte</text>
<text x="391.5" y="587.9">Anwendung</text><text x="391.5" y="591.1">beim</text><text x="391.5" y="594.3">Verbraucher</text>
</g>
<text class="c" x="293" y="524.5" style="font-size:4.3px;fill:#444">Recycling</text>
<text class="c" x="276" y="599.5" style="font-size:3.9px;fill:#444">Valley of</text>
<text class="c" x="276" y="604" style="font-size:3.9px;fill:#444">death</text>
<text class="c" x="276" y="608.5" style="font-size:3.9px;fill:#444">(TRL 4-7)</text>

<rect class="tb" x="98" y="657" width="102" height="95" stroke="#9fdcc8"/>
<use href="#task" x="98" y="657" width="102" height="95"/>
<rect class="tb" x="262" y="672" width="71" height="47" stroke="#9fdcc8"/>
<use href="#task2" x="262" y="672" width="71" height="47"/>
</g>

<!-- ============ lime area ============ -->
<g id="lime-area">
<rect class="tb" x="714" y="528" width="77" height="50" stroke="#c5e49a"/>
<use href="#task2" x="714" y="528" width="77" height="50"/>
<use href="#timer" x="688" y="551" width="23" height="24"/>

<rect class="cl" x="703" y="585" width="81" height="54" rx="10"/>
<text class="tt" x="743.5" y="592">Consumer facing attributes</text>
<rect class="cl" x="792" y="556" width="82" height="69" rx="10"/>
<text class="tt" x="833" y="563">External attributes</text>
<rect class="cl" x="819" y="507" width="60" height="47" rx="10"/>
<text class="tt" x="849" y="514.5">Product attributes</text>
<rect class="cl" x="883" y="517" width="74" height="89" rx="12"/>
<text class="tt" x="920" y="525">Economic attributes</text>
<rect class="cl" x="818" y="632" width="116" height="105" rx="14"/>
<text class="tt" x="876" y="638.5">economic system</text>

<g class="notes">
<rect class="nl" x="705" y="598" width="21" height="22"/>
<rect class="nl" x="732" y="600" width="21" height="22"/>
<rect class="nl" x="758" y="600" width="21" height="22"/>
<rect class="nl" x="721" y="617" width="19" height="20"/>
<rect class="nl" x="742" y="620" width="21" height="19"/>
<rect class="nl" x="801" y="568" width="20" height="19"/>
<rect class="nl" x="823" y="573" width="18" height="18"/>
<rect class="nl" x="844" y="573" width="21" height="22"/>
<rect class="nl" x="811" y="596" width="23" height="22"/>
<rect class="nl" x="840" y="597" width="21" height="22"/>
<rect class="nl" x="829" y="525" width="18" height="20"/>
<rect class="nl" x="851" y="525" width="20" height="20"/>
<rect class="nl" x="885" y="545" width="21" height="22"/>
<rect class="nl" x="909" y="547" width="21" height="22"/>
<rect class="nl" x="932" y="531" width="20" height="21"/>
<rect class="nl" x="933" y="557" width="19" height="23"/>
<rect class="nl" x="893" y="572" width="20" height="22"/>
<rect class="nl" x="923" y="580" width="20" height="22"/>
<rect class="nl" x="832" y="638" width="21" height="22"/>
<rect class="nl" x="856" y="639" width="17" height="20"/>
<rect class="nl" x="837" y="662" width="21" height="22"/>
<rect class="nl" x="864" y="663" width="20" height="21"/>
<rect class="nl" x="890" y="660" width="21" height="22"/>
<rect class="nl" x="839" y="688" width="18" height="20"/>
<rect class="nl" x="880" y="688" width="19" height="20"/>
<rect class="nl" x="859" y="707" width="19" height="20"/>
<rect class="nl" x="886" y="711" width="20" height="20"/>
</g>
<g class="s c">
<text x="715.5" y="607.4">Consumer</text><text x="715.5" y="610.6">Awareness</text>
<text x="742.5" y="612">Ownership</text>
<text x="768.5" y="607.8">Price</text><text x="768.5" y="611">Sensitivi-</text><text x="768.5" y="614.2">ty</text>
<text x="730.5" y="627.4">Conve-</text><text x="730.5" y="630.6">nience</text>
<text x="752.5" y="627.3">Trust in</text><text x="752.5" y="630.5">Recycled</text><text x="752.5" y="633.7">Products</text>
<text x="811" y="578.5">Legislation</text>
<text x="832" y="580.8">Standardi-</text><text x="832" y="584">sierung</text>
<text x="854.5" y="585">Infrastructure</text>
<text x="822.5" y="604.8">Social</text><text x="822.5" y="608">Pressure</text>
<text x="850.5" y="603.8">Supply</text><text x="850.5" y="607">Chains</text><text x="850.5" y="610.2">global</text>
<text x="838" y="531.8">Produkt-</text><text x="838" y="535">design</text><text x="838" y="538.2">modular</text>
<text x="861" y="532.8">Material-</text><text x="861" y="536">auswahl</text><text x="861" y="539.2">nachhaltig</text>
<text x="895.5" y="557">Scalability</text>
<text x="942.5" y="566.4">Economies</text><text x="942.5" y="569.6">of Scale</text>
<text x="903" y="581.4">Invest-</text><text x="903" y="584.6">ment</text>
<text x="933" y="587.8">Subsidies</text><text x="933" y="591">und</text><text x="933" y="594.2">Förderung</text>
<text x="842.5" y="649.5">Kreislauf</text>
<text x="864.5" y="646.8">Angebot</text><text x="864.5" y="650">und</text><text x="864.5" y="653.2">Nachfrage</text>
<text x="847.5" y="671.4">Sekundär-</text><text x="847.5" y="674.6">rohstoff-</text><text x="847.5" y="677.8">markt</text>
<text x="874" y="674.5">Wettbewerb</text>
<text x="900.5" y="668.2">Preis-</text><text x="900.5" y="671.4">bildung</text><text x="900.5" y="674.6">Märkte</text>
<text x="848" y="698.5">Inflation</text>
<text x="889.5" y="698.5">Lieferketten</text>
<text x="868.5" y="715.4">Zinsen</text><text x="868.5" y="718.6">und Kredit</text>
<text x="896" y="721.5">Regulation</text>
</g>
<text class="c" x="919.5" y="560" style="font-size:5px;fill:#444">Kosten</text>
<text class="c" x="942" y="539" style="font-size:3.2px;fill:#444">Effizienz</text>
<text class="c" x="942" y="543" style="font-size:3.2px;fill:#444">gesteigert</text>
<text class="c" x="942" y="547" style="font-size:3.2px;fill:#444">positiv</text>

<g class="notes">
<rect class="nl" x="993" y="573" width="40" height="22"/>
<rect class="nl" x="996" y="600" width="35" height="19"/>
<rect class="nl" x="996" y="627" width="35" height="19"/>
<rect class="nl" x="997" y="652" width="34" height="19"/>
<rect class="nl" x="1040" y="597" width="51" height="27"/>
<rect class="nl" x="1140" y="522" width="40" height="21"/><rect class="tag" x="1141" y="539" width="16" height="2.5"/>
<rect class="nl" x="1185" y="528" width="32" height="18"/><rect class="tag" x="1186" y="542" width="12" height="2.5"/>
<rect class="nl" x="1112" y="549" width="51" height="27"/>
<rect class="nl" x="1166" y="550" width="31" height="18"/><rect class="tag" x="1167" y="564" width="12" height="2.5"/>
<rect class="nl" x="1160" y="570" width="45" height="25"/><rect class="tag" x="1162" y="591" width="17" height="2.5"/>
<rect class="nl" x="1154" y="613" width="40" height="22"/><rect class="tag" x="1155" y="631" width="16" height="2.5"/>
<rect class="nl" x="1116" y="635" width="52" height="28"/>
<rect class="nl" x="1193" y="632" width="27" height="15"/><rect class="tag" x="1194" y="644" width="10" height="2"/>
<rect class="nl" x="1192" y="653" width="28" height="17"/><rect class="tag" x="1193" y="667" width="10" height="2"/>
<rect class="nl" x="1145" y="666" width="46" height="25"/><rect class="tag" x="1147" y="687" width="17" height="2.5"/>
</g>
<text class="pr" x="1065.5" y="613.5" style="font-size:7px">Prospektionen</text>
<g class="s c">
<text x="1013" y="579">Entwicklung des Industrie-</text><text x="1013" y="582.5">standorts mit nachhaltiger</text><text x="1013" y="586">Produktion und Kosten-</text><text x="1013" y="589.5">effizienz im Vergleich</text>
<text x="1013.5" y="606">Was passiert mit Kosten</text><text x="1013.5" y="609.5">wenn Nachhaltigkeit</text><text x="1013.5" y="613">Pflicht wird?</text>
<text x="1013.5" y="633">Was muss passieren,</text><text x="1013.5" y="636.5">damit nachhaltige</text><text x="1013.5" y="640">Produktion günstig wird?</text>
<text x="1014" y="658">Was sind NT-Treiber</text><text x="1014" y="661.5">für eine nachhaltige</text><text x="1014" y="665">Industrie im Wettbewerb</text>
</g>
<text class="s" x="1142" y="527">Wer trägt Verantwortung</text>
<text class="s" x="1142" y="530.5">für die Um- und</text>
<text class="s" x="1142" y="534">Durchsetzung?</text>
<text class="s" x="1187" y="532">Braucht es neue</text>
<text class="s" x="1187" y="535.5">technologische</text>
<text class="s" x="1187" y="539">Innovationen?</text>
<text class="d" x="1114" y="554">Prospektion: mit Wirtschaftlichkeit</text>
<text class="d" x="1114" y="557">• Nachhaltige Produktion rechnet sich</text>
<text class="d" x="1114" y="560">• Effizienz senkt Kosten deutlich</text>
<text class="d" x="1114" y="563">• Investitionen zahlen sich aus</text>
<text class="d" x="1114" y="566">• Standort bleibt wettbewerbsfähig</text>
<text class="s" x="1168" y="554.5">Welche umfassenden</text>
<text class="s" x="1168" y="558">Veränderungen?</text>
<text class="s" x="1162" y="575">Welche Rolle spielt im Szenario die</text>
<text class="s" x="1164" y="578.5">Bildung</text>
<text class="s" x="1164" y="581.5">Politik</text>
<text class="s" x="1164" y="584.5">Konsumenten</text>
<text class="s" x="1156" y="618">Wer trägt Verantwortung</text>
<text class="s" x="1156" y="621.5">für die Um- und</text>
<text class="s" x="1156" y="625">Durchsetzung?</text>
<text class="d" x="1118" y="640">Prospektion: ohne Wirtschaftlichkeit</text>
<text class="d" x="1118" y="643">• Nachhaltigkeit wird zur Kostenfrage</text>
<text class="d" x="1118" y="646">• Produktion wandert ab</text>
<text class="d" x="1118" y="649">• Förderung ist nötig</text>
<text class="d" x="1118" y="652">• Preise für Verbraucher steigen</text>
<text class="s" x="1195" y="637">Braucht es neue</text>
<text class="s" x="1195" y="640.5">Innovationen?</text>
<text class="s" x="1194" y="658">Welche umfassenden</text>
<text class="s" x="1194" y="661.5">Veränderungen?</text>
<text class="s" x="1147" y="671">Welche Rolle spielt im Szenario die</text>
<text class="s" x="1149" y="674.5">Bildung</text>
<text class="s" x="1149" y="677.5">Politik</text>
<text class="s" x="1149" y="680.5">Konsumenten</text>

<rect class="tb" x="957" y="387" width="105" height="101" stroke="#c9e2a3"/>
<use href="#task" x="957" y="387" width="105" height="101"/>
</g>

<!-- ============ pink area ============ -->
<g id="pink-area">
<rect class="tb" x="425" y="675" width="72" height="46" stroke="#f3b29c"/>
<use href="#task2" x="425" y="675" width="72" height="46"/>

<rect class="cl" x="358" y="730" width="96" height="97" rx="16"/>
<text class="tt" x="406" y="735" style="font-size:2.4px">Konsumfaktoren</text>
<rect class="cl" x="633" y="725" width="102" height="102" rx="16"/>
<text class="tt" x="684" y="730" style="font-size:2.4px">Herstellerfaktoren</text>

<g class="notes">
<rect class="nr" x="374" y="739" width="21" height="22"/>
<rect class="nr" x="402" y="739" width="22" height="22"/>
<rect class="nr" x="427" y="743" width="22" height="22"/>
<rect class="nr" x="361" y="767" width="21" height="22"/>
<rect class="nr" x="386" y="768" width="21" height="20"/>
<rect class="nr" x="412" y="768" width="22" height="22"/>
<rect class="nr" x="376" y="795" width="22" height="22"/>
<rect class="nr" x="415" y="797" width="22" height="22"/>
<rect class="nr" x="543" y="727" width="19" height="18"/>
<rect class="nr" x="563" y="722" width="22" height="20"/>
<rect class="nr" x="587" y="722" width="22" height="22"/>
<rect class="nr" x="559" y="750" width="19" height="18"/>
<rect class="nr" x="587" y="747" width="22" height="21"/>
<rect class="nr" x="662" y="732" width="21" height="20"/>
<rect class="nr" x="700" y="735" width="33" height="33"/>
<rect class="nr" x="649" y="751" width="21" height="20"/>
<rect class="nr" x="678" y="752" width="20" height="20"/>
<rect class="nr" x="645" y="775" width="22" height="22"/>
<rect class="nr" x="678" y="778" width="20" height="20"/>
<rect class="nr" x="712" y="775" width="19" height="18"/>
<rect class="nr" x="619" y="797" width="22" height="20"/>
<rect class="nr" x="652" y="800" width="22" height="22"/>
<rect class="nr" x="682" y="800" width="22" height="22"/>
</g>
<g class="s c">
<text x="384.5" y="746.8">Hoher</text><text x="384.5" y="750">Konsum-</text><text x="384.5" y="753.2">verzicht</text>
<text x="413" y="748.4">Steuerliche</text><text x="413" y="751.6">Anreize</text>
<text x="371.5" y="774.8">Förderung</text><text x="371.5" y="778">von</text><text x="371.5" y="781.2">nachhaltigem</text><text x="371.5" y="784.4">Konsum</text>
<text x="396.5" y="776.4">Preisbildung</text><text x="396.5" y="779.6">durch</text><text x="396.5" y="782.8">Steuern</text>
<text x="423" y="775.8">Verbot</text><text x="423" y="779">von</text><text x="423" y="782.2">Einweg-</text><text x="423" y="785.4">produkten</text>
<text x="387" y="802.8">Bildung</text><text x="387" y="806">über</text><text x="387" y="809.2">Konsum-</text><text x="387" y="812.4">folgen</text>
<text x="426" y="806.4">Kennzeich-</text><text x="426" y="809.6">nungspflicht</text>
<text x="552.5" y="734.4">Steuern</text><text x="552.5" y="737.6">erhöhen</text>
<text x="574" y="728.8">Quoten</text><text x="574" y="732">für</text><text x="574" y="735.2">Rezyklate</text>
<text x="598" y="729.8">Verbote</text><text x="598" y="733">Plastik-</text><text x="598" y="736.2">produkte</text>
<text x="568.5" y="757.4">Subven-</text><text x="568.5" y="760.6">tionen</text>
<text x="598" y="754.3">Pfand-</text><text x="598" y="757.5">systeme</text><text x="598" y="760.7">ausbauen</text>
<text x="672.5" y="739.8">Vorschriften</text><text x="672.5" y="743">für</text><text x="672.5" y="746.2">Produktion</text>
<text x="659.5" y="760.4">Grenzwerte</text>
<text x="688" y="761.4">Menge</text><text x="688" y="764.6">Rohstoffe</text>
<text x="656" y="783.3">Lieferketten-</text><text x="656" y="786.5">gesetz</text>
<text x="688" y="787.4">Emissions-</text><text x="688" y="790.6">handel</text>
<text x="721.5" y="783.4">Haftung</text><text x="721.5" y="786.6">Hersteller</text>
<text x="630" y="804.8">Förderung</text><text x="630" y="808">von</text><text x="630" y="811.2">Innovation</text>
<text x="663" y="809.4">Ausschreibung</text><text x="663" y="812.6">öffentlich</text>
<text x="693" y="812">Lizenzgebühr</text>
</g>
<g style="font-size:2.2px">
<text x="702" y="741">Produktdesign: Vorgaben</text>
<text x="702" y="744">zu Reparierbarkeit und</text>
<text x="702" y="747">Haltbarkeit, Recycling-</text>
<text x="702" y="750">anteil in Produkten,</text>
<text x="702" y="753">Verbote schädlicher</text>
<text x="702" y="756">Stoffe, Anforderungen</text>
<text x="702" y="759">an Verpackungen</text>
</g>
<text class="c" x="438" y="752" style="font-size:3.6px;fill:#555">Einfluss</text>
<text class="c" x="438" y="756.5" style="font-size:3.6px;fill:#555">von</text>
<text class="c" x="438" y="761" style="font-size:3.6px;fill:#555">Anreizen</text>

<g class="notes">
<rect class="nr" x="429" y="867" width="48" height="27"/>
<rect class="nr" x="488" y="863" width="46" height="27"/>
<rect class="nr" x="543" y="863" width="51" height="28"/>
<rect class="nr" x="599" y="868" width="51" height="29"/>
<rect class="nr" x="488" y="910" width="49" height="26"/>
<rect class="nr" x="379" y="983" width="62" height="62"/>
<rect class="nr" x="621" y="983" width="55" height="57"/>
<rect class="nr" x="336" y="1033" width="40" height="22"/><rect class="tag" x="337" y="1051" width="15" height="2.5"/>
<rect class="nr" x="376" y="1062" width="33" height="17"/><rect class="tag" x="377" y="1076" width="12" height="2.5"/>
<rect class="nr" x="415" y="1055" width="33" height="18"/><rect class="tag" x="416" y="1069" width="12" height="2.5"/>
<rect class="nr" x="453" y="1048" width="46" height="25"/><rect class="tag" x="455" y="1069" width="17" height="2.5"/>
<rect class="nr" x="577" y="1042" width="39" height="22"/><rect class="tag" x="578" y="1060" width="15" height="2.5"/>
<rect class="nr" x="598" y="1068" width="32" height="18"/>
<rect class="nr" x="636" y="1070" width="32" height="17"/>
<rect class="nr" x="674" y="1045" width="46" height="25"/><rect class="tag" x="676" y="1066" width="17" height="2.5"/>
</g>
<g class="c" style="font-size:3.1px;fill:#555">
<text x="453" y="876">Was passiert wenn</text><text x="453" y="880.5">Verbote/Maßnahmen</text><text x="453" y="885">eingesetzt werden</text>
<text x="511" y="870">Was passiert wenn positive</text><text x="511" y="874">Anreize durch den</text><text x="511" y="878">Gesetzgeber/Maßnahmen</text><text x="511" y="882">eingesetzt werden</text>
</g>
<g class="c" style="font-size:4px;fill:#555">
<text x="568.5" y="872">Welchen Einfluss</text><text x="568.5" y="877.5">hat eine Reduktion</text><text x="568.5" y="883">von Rohstoffen</text>
</g>
<text class="c" x="624.5" y="880" style="font-size:5.2px;fill:#555">Wer ist</text>
<text class="c" x="624.5" y="887" style="font-size:5.2px;fill:#555">Verantwortlich?</text>
<text class="pr" x="512.5" y="926">Prospektionen</text>
<g style="font-size:2.2px;fill:#333">
<text x="382" y="990">Prospektion: Einsatz von Verboten</text>
<text x="382" y="993" font-weight="bold">Einwegprodukte sind verboten, Konsum sinkt</text>
<text x="382" y="999">Was:</text>
<text x="382" y="1002">• Strenge Vorgaben für Hersteller und Handel</text>
<text x="382" y="1005">• Sanktionen bei Verstößen</text>
<text x="382" y="1008">• Rohstoffverbrauch geht deutlich zurück</text>
<text x="382" y="1011">• Akzeptanz in der Bevölkerung gering</text>
<text x="382" y="1014">• Neue Märkte für Mehrweg entstehen</text>
<text x="382" y="1017">• Unternehmen müssen umstellen</text>
<text x="382" y="1020">• Kontrolle durch Behörden</text>
<text x="382" y="1023">• Preise steigen kurzfristig</text>
<text x="382" y="1029">Fazit: schnelle Wirkung, wenig Akzeptanz</text>
<text x="624" y="990">Prospektion: Einsatz von Anreizen</text>
<text x="624" y="996">Was:</text>
<text x="624" y="999">• Steuervorteile für Rezyklate</text>
<text x="624" y="1002">• Förderprogramme für Unternehmen</text>
<text x="624" y="1005">• Bonus für Rückgabe</text>
<text x="624" y="1008">• Freiwillige Selbstverpflichtung</text>
<text x="624" y="1011">• Langsamer, aber breiter Wandel</text>
<text x="624" y="1014">• Höhere Akzeptanz</text>
<text x="624" y="1017">• Kosten für den Staat</text>
</g>
<text class="s" x="338" y="1038">Wer trägt Verantwortung</text>
<text class="s" x="338" y="1041.5">für die Um- und</text>
<text class="s" x="338" y="1045">Durchsetzung?</text>
<text class="s" x="378" y="1066.5">Braucht es neue</text>
<text class="s" x="378" y="1070">Innovationen?</text>
<text class="s" x="417" y="1059.5">Welche umfassenden</text>
<text class="s" x="417" y="1063">Veränderungen?</text>
<text class="s" x="455" y="1053">Welche Rolle spielt im Szenario die</text>
<text class="s" x="457" y="1056.5">Bildung</text>
<text class="s" x="457" y="1059.5">Politik</text>
<text class="s" x="457" y="1062.5">Konsumenten</text>
<text class="s" x="579" y="1047">Wer trägt Verantwortung</text>
<text class="s" x="579" y="1050.5">für die Um- und</text>
<text class="s" x="579" y="1054">Durchsetzung?</text>
<text class="s" x="600" y="1073">Braucht es neue</text>
<text class="s" x="600" y="1076.5">Innovationen?</text>
<text class="s" x="638" y="1075">Welche umfassenden</text>
<text class="s" x="638" y="1078.5">Veränderungen?</text>
<text class="s" x="676" y="1050">Welche Rolle spielt im Szenario die</text>
<text class="s" x="678" y="1053.5">Bildung</text>
<text class="s" x="678" y="1056.5">Politik</text>
<text class="s" x="678" y="1059.5">Konsumenten</text>

<rect class="tb" x="677" y="875" width="102" height="101" stroke="#f3b29c"/>
<use href="#task" x="677" y="875" width="102" height="101"/>
</g>

<!-- ============ agenda slide ============ -->
<g id="agenda">
<rect x="134" y="934" width="186" height="105" fill="#fff"/>
<text x="147" y="955" style="font-size:9px;fill:#444">Agenda</text>
<rect x="145" y="962" width="162" height="5.5" fill="#5b9bd5"/>
<line x1="198" y1="962" x2="198" y2="1013.5" stroke="#fff" stroke-width="0.5"/>
<text x="147" y="966" style="font-size:2.6px;fill:#fff">Uhrzeit/Dauer (Minuten)</text>
<text x="200" y="966" style="font-size:2.6px;fill:#fff">Inhalt</text>
<rect x="145" y="967.5" width="162" height="5.75" fill="#d3e0f0"/>
<rect x="145" y="973.25" width="162" height="5.75" fill="#e9eff8"/>
<rect x="145" y="979" width="162" height="5.75" fill="#d3e0f0"/>
<rect x="145" y="984.75" width="162" height="5.75" fill="#e9eff8"/>
<rect x="145" y="990.5" width="162" height="5.75" fill="#d3e0f0"/>
<rect x="145" y="996.25" width="162" height="5.75" fill="#e9eff8"/>
<rect x="145" y="1002" width="162" height="5.75" fill="#d3e0f0"/>
<rect x="145" y="1007.75" width="162" height="5.75" fill="#e9eff8"/>
<g class="c" style="font-size:2.6px;fill:#555">
<text x="177" y="971.3">10 Min</text><text x="253" y="971.3">Begrüßung und Einführung</text>
<text x="177" y="977">10 Min</text><text x="253" y="977">6 Aufgaben/Schlüsselfaktoren</text>
<text x="177" y="982.8">1 Std 10 Min</text><text x="253" y="982.8">Pause</text>
<text x="177" y="988.5">15 Min</text><text x="253" y="988.5">2. Aufgabe: Szenario entwickeln</text>
<text x="177" y="994.3">20 Min</text><text x="253" y="994.3">3.-4. Aufgabe: Prospektionen entwickeln</text>
<text x="177" y="1000">5 Min</text><text x="253" y="1000">Pause</text>
<text x="177" y="1005.8">15 Min</text><text x="253" y="1005.8">5.+6. Aufgabe: Zusammenfassung erstellen</text>
<text x="177" y="1011.5">5 Min</text><text x="253" y="1011.5">Präsentation der Ergebnisse</text>
</g>
</g>

<!-- ============ callouts ============ -->
<g id="callout-1">
<rect x="1141" y="131" width="210" height="114" fill="#3cd9b0"/>
<text x="1243.5" y="181" style="font-size:26px;fill:#111;text-anchor:middle">Identify the</text>
<text x="1243.5" y="209" style="font-size:26px;fill:#111;text-anchor:middle">Factors</text>
</g>
<g id="callout-2">
<rect x="1110" y="797" width="222" height="115" fill="#3cd9b0"/>
<text x="1220.5" y="857" style="font-size:26px;fill:#111;text-anchor:middle">Clustering</text>
<text x="1220.5" y="880" style="font-size:26px;fill:#111;text-anchor:middle">the Factors</text>
</g>
</svg>
